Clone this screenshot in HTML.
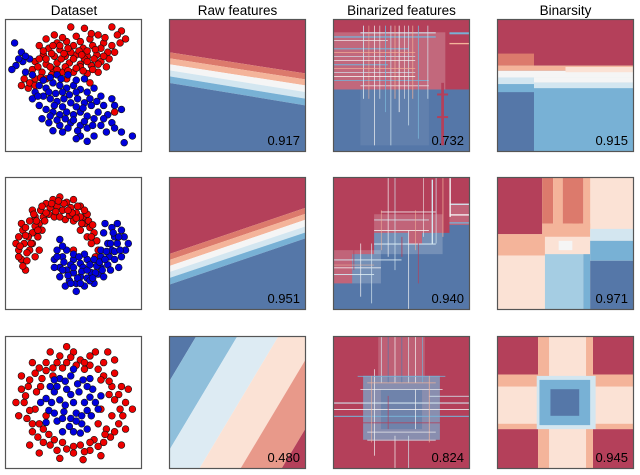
<!DOCTYPE html>
<html><head><meta charset="utf-8"><style>
html,body{margin:0;padding:0;background:#fff;}
svg{display:block;font-family:"Liberation Sans",sans-serif;}
</style></head><body>
<svg id="fig" width="640" height="475" viewBox="0 0 640 475" xmlns="http://www.w3.org/2000/svg">
<text x="74" y="15" text-anchor="middle" font-size="13.5">Dataset</text>
<text x="237.5" y="15" text-anchor="middle" font-size="13.5">Raw features</text>
<text x="401.5" y="15" text-anchor="middle" font-size="13.5">Binarized features</text>
<text x="565.5" y="15" text-anchor="middle" font-size="13.5">Binarsity</text>
</svg>
<script>
// ---------- data ----------
const colX = [5, 169, 333, 497];
const rowY = [19, 177, 336];
const PW = 137, PH = 133;
const scores = [["0.917","0.732","0.915"],["0.951","0.940","0.971"],["0.480","0.824","0.945"]];
const palette = {R:"#b4405a",S:"#dc7a6c",L:"#f4b49a",P:"#fbe2d5",W:"#f5f5f5",B1:"#d3e6f0",B2:"#a5cde3",B3:"#78b1d5",D:"#5577a8",G:"#8fbfdb",Q:"#ddebf3",T:"#e8998a"};

const d1Red = [[.48,.06],[.58,.07],[.78,.06],[.85,.09],[.82,.12],[.68,.12],[.62,.15],[.52,.13],[.45,.17],[.38,.18],[.3,.15],[.25,.2],[.32,.22],[.4,.23],[.5,.2],[.57,.22],[.64,.2],[.72,.18],[.78,.2],[.84,.18],[.88,.15],[.75,.25],[.67,.27],[.6,.28],[.52,.27],[.44,.28],[.36,.28],[.28,.27],[.22,.32],[.3,.34],[.38,.33],[.47,.33],[.55,.34],[.63,.35],[.7,.32],[.76,.3],[.2,.38],[.27,.4],[.35,.38],[.42,.4],[.5,.4],[.6,.41],[.68,.4],[.14,.45],[.22,.45],[.3,.45],[.17,.52],[.62,.48],[.8,.7],[.45,.45],[.55,.36],[.4,.2],[.6,.24],[.34,.26],[.7,.22],[.25,.3],[.48,.25],[.58,.3],[.65,.3],[.36,.12],[.8,.25],[.18,.48],
 [.42,.14],[.55,.17],[.63,.11],[.73,.14],[.35,.2],[.46,.22],[.54,.24],[.66,.23],[.3,.3],[.41,.3],[.5,.3],[.6,.32],[.68,.34],[.33,.36],[.44,.36],[.52,.37],[.24,.36],[.38,.38],[.57,.39],[.64,.38],[.72,.28],[.26,.44],[.34,.42],[.46,.39],[.12,.5],[.22,.5],[.28,.24],[.74,.36],[.56,.27],[.43,.26]];
const d1Blue = [[.07,.18],[.12,.25],[.08,.35],[.05,.38],[.13,.32],[.18,.3],[.2,.42],[.15,.4],[.25,.5],[.3,.52],[.35,.48],[.4,.5],[.45,.52],[.5,.5],[.55,.53],[.6,.55],[.65,.52],[.7,.58],[.28,.58],[.33,.6],[.38,.62],[.43,.6],[.48,.63],[.53,.6],[.58,.63],[.63,.65],[.3,.68],[.35,.7],[.4,.72],[.45,.7],[.5,.72],[.55,.7],[.6,.73],[.68,.7],[.75,.72],[.8,.65],[.85,.68],[.27,.75],[.32,.78],[.4,.8],[.48,.78],[.55,.8],[.6,.82],[.7,.8],[.78,.78],[.85,.85],[.93,.88],[.87,.93],[.65,.88],[.55,.88],[.6,.92],[.52,.9],[.42,.85],[.35,.84],[.25,.65],[.22,.55],[.2,.6],[.42,.55],[.58,.45],[.72,.65],[.46,.42],[.38,.42],
 [.32,.55],[.37,.56],[.47,.57],[.52,.55],[.62,.6],[.67,.62],[.36,.65],[.42,.66],[.52,.66],[.57,.67],[.33,.73],[.38,.76],[.44,.75],[.5,.76],[.58,.77],[.65,.75],[.72,.75],[.46,.82],[.53,.84],[.64,.8],[.74,.85],[.8,.82],[.28,.46],[.33,.44],[.41,.45],[.52,.46],[.24,.58],[.15,.28],[.1,.3],[.78,.6]];
const d2Red = [[.1,.45],[.1,.55],[.12,.62],[.15,.7],[.1,.6],[.14,.5],[.13,.4],[.18,.33],[.2,.42],[.18,.55],[.22,.6],[.16,.63],[.22,.3],[.26,.25],[.25,.35],[.3,.2],[.32,.28],[.35,.17],[.38,.22],[.4,.15],[.42,.25],[.45,.19],[.48,.23],[.5,.17],[.52,.27],[.55,.22],[.57,.3],[.6,.28],[.58,.35],[.62,.38],[.65,.42],[.67,.48],[.63,.5],[.68,.55],[.6,.45],[.55,.4],[.28,.3],[.24,.45],[.2,.5],[.27,.4],[.36,.3],[.44,.32],[.5,.33],[.08,.5],[.17,.45],[.3,.27],[.4,.3],[.47,.29],[.55,.3],[.2,.25],[.12,.35],[.22,.37],[.5,.55],[.66,.6],[.25,.55],
 [.15,.38],[.16,.57],[.19,.5],[.23,.33],[.27,.22],[.33,.23],[.37,.26],[.43,.2],[.49,.27],[.53,.22],[.58,.25],[.61,.33],[.64,.36],[.63,.45],[.13,.67],[.11,.52],[.15,.44],[.21,.28],[.29,.33],[.46,.25],[.52,.31],[.24,.4],[.34,.2],[.39,.18],[.56,.35]];
const d2Blue = [[.38,.55],[.36,.62],[.4,.68],[.42,.6],[.45,.7],[.4,.75],[.47,.78],[.5,.72],[.52,.8],[.55,.75],[.58,.82],[.6,.76],[.63,.72],[.65,.8],[.68,.73],[.7,.68],[.72,.75],[.75,.66],[.76,.6],[.78,.55],[.8,.62],[.82,.5],[.8,.45],[.78,.38],[.85,.4],[.88,.55],[.9,.5],[.85,.6],[.75,.5],[.72,.42],[.7,.55],[.65,.62],[.6,.62],[.55,.65],[.5,.62],[.45,.55],[.42,.52],[.48,.66],[.57,.68],[.52,.86],[.62,.78],[.7,.6],[.87,.45],[.73,.35],[.82,.35],[.4,.47],[.36,.68],[.44,.82],[.67,.67],[.83,.68],[.77,.7],[.58,.58],
 [.43,.64],[.46,.74],[.5,.68],[.53,.76],[.56,.71],[.6,.7],[.62,.66],[.66,.72],[.69,.64],[.73,.62],[.74,.56],[.77,.5],[.8,.56],[.83,.45],[.79,.42],[.38,.6],[.42,.7],[.48,.8],[.55,.8],[.64,.76],[.71,.7],[.84,.55],[.5,.58],[.54,.6]];
const d3Red = [[.5,.12],[.4,.15],[.3,.2],[.22,.28],[.17,.38],[.14,.5],[.16,.62],[.2,.72],[.28,.8],[.38,.86],[.5,.88],[.62,.86],[.72,.8],[.8,.72],[.86,.6],[.88,.5],[.85,.38],[.8,.28],[.72,.2],[.62,.15],[.45,.2],[.35,.24],[.27,.32],[.23,.42],[.22,.55],[.25,.66],[.32,.74],[.42,.8],[.55,.82],[.65,.78],[.74,.7],[.78,.6],[.8,.48],[.78,.38],[.72,.3],[.62,.22],[.55,.18],[.66,.12],[.33,.12],[.12,.4],[.1,.6],[.25,.88],[.7,.9],[.88,.7],[.9,.4],[.8,.18],[.2,.2],[.58,.25],[.3,.6],[.7,.55],[.18,.82],[.85,.82],[.57,.93],[.4,.92],[.08,.5],[.93,.55],[.45,.08],[.75,.12],[.12,.3],[.35,.3],[.68,.66],
 [.25,.24],[.18,.33],[.15,.45],[.18,.56],[.2,.66],[.24,.76],[.33,.82],[.45,.85],[.58,.87],[.68,.83],[.77,.76],[.83,.66],[.84,.55],[.83,.44],[.76,.34],[.68,.25],[.58,.2],[.48,.16],[.38,.2],[.3,.26],[.26,.38],[.28,.7],[.36,.78],[.5,.83],[.62,.8],[.73,.74],[.76,.44],[.7,.33],[.42,.24],[.52,.22]];
const d3Blue = [[.48,.3],[.4,.32],[.33,.38],[.3,.47],[.32,.56],[.38,.64],[.47,.68],[.56,.66],[.63,.6],[.66,.5],[.64,.4],[.57,.33],[.45,.4],[.4,.48],[.43,.57],[.52,.58],[.58,.5],[.54,.42],[.5,.5],[.36,.42],[.6,.7],[.3,.65],[.26,.5],[.5,.25],[.7,.45],[.42,.72],[.55,.73],[.36,.33],[.62,.32],[.48,.62],
 [.44,.34],[.53,.36],[.6,.38],[.38,.38],[.34,.5],[.36,.58],[.42,.62],[.52,.64],[.6,.56],[.62,.46],[.48,.44],[.44,.52],[.56,.6],[.5,.72],[.68,.55]];

const raw1Lines = [[0,.25,1,.41],[0,.295,1,.455],[0,.34,1,.5],[0,.385,1,.55],[0,.43,1,.6],[0,.48,1,.65]];
const raw1Colors = ["R","S","L","W","B1","B3","D"];
const raw2Lines = [[0,.58,1,.23],[0,.625,1,.275],[0,.67,1,.32],[0,.715,1,.37],[0,.76,1,.415],[0,.81,1,.46]];
const raw2Colors = ["R","S","L","W","B1","B3","D"];
const raw3Lines = [[-.38,1,.2,0],[-.08,1,.5,0],[.22,1,.8,0],[.52,1,1.1,0],[.82,1,1.4,0]];
const raw3Colors = ["D","G","Q","P","T","R"];

// binarized features: base rects, overlay haze rects [u0,v0,u1,v1,color,opacity], thin stripes
const bin1Base = [[0,0,1,.53,"R"],[0,.53,1,1,"D"]];
const bin1Haze = [[0,.1,.82,.53,"W",.22],[.2,.53,.7,.95,"W",.08]];
const bin1Stripes = [[0,.13,.75,.14,"B3"],[0,.16,.4,.165,"W"],[.2,.1,.75,.108,"B1"],[.85,.1,1,.115,"B3"],[.85,.18,1,.19,"L"],[0,.22,.55,.228,"B3"],[0,.28,.6,.285,"B1"],[0,.34,.4,.348,"B3"],[0,.4,.6,.405,"B1"],[0,.46,.7,.466,"B3"],[.2,.5,.7,.505,"W"],[.22,.05,.226,.6,"B1"],[.3,.05,.305,.95,"W"],[.38,.05,.386,.7,"B3"],[.42,.05,.425,.95,"B1"],[.48,.05,.486,.7,"W"],[.55,.05,.555,.8,"B1"],[.62,.05,.626,.9,"B3"],[.69,.05,.695,.6,"B1"],[.79,.48,.81,.95,"R"],[.76,.56,.84,.575,"R"],[.76,.73,.84,.745,"R"],[.34,.05,.344,.6,"W"],[.45,.05,.455,.6,"L"],[.52,.05,.524,.6,"W"],[.58,.05,.585,.6,"L"],[.26,.05,.264,.6,"L"],[0,.31,.6,.315,"W"],[0,.37,.6,.375,"L"],[0,.43,.6,.436,"W"],[0,.25,.6,.255,"L"]];
const bin2Base = [[0,0,1,1,"R"]];
const bin2Poly = [[0,.8],[.14,.8],[.14,.58],[.3,.58],[.3,.42],[.55,.42],[.55,.5],[.65,.5],[.65,.42],[.85,.42],[.85,.36],[1,.36],[1,1],[0,1]];
const bin2Haze = [[0,.55,.35,.8,"W",.2],[.3,.28,.8,.58,"W",.2],[.85,.2,1,.36,"W",.2]];
const bin2Stripes = [[0,.62,.5,.627,"B1"],[0,.68,.35,.686,"W"],[0,.73,.3,.737,"B1"],[.3,.5,.75,.508,"B1"],[.3,.4,.7,.406,"W"],[.3,.32,.7,.326,"B1"],[.35,.26,.75,.266,"W"],[.85,.2,1,.21,"B1"],[.85,.28,1,.29,"W"],[.85,.34,1,.35,"B3"],[.72,.02,.73,.5,"B1"],[.85,0,.86,.3,"W"],[.75,0,.755,.5,"B1"],[.4,0,.405,.6,"W"],[.45,0,.455,.7,"B1"],[.2,.5,.205,.9,"W"],[.28,.5,.285,.95,"B1"],[.55,.4,.555,1,"W"],[.62,.5,.625,.8,"R"],[.15,.55,.155,.7,"R"],[.5,.45,.506,.6,"R"],[.35,.25,.354,.55,"L"],[.6,.25,.604,.55,"L"],[.66,0,.664,.45,"W"],[.8,0,.805,.45,"L"],[0,.66,.3,.664,"L"]];
const bin3Base = [[0,0,1,1,"R"]];
const bin3Poly = [[.22,.3],[.78,.3],[.78,.78],[.22,.78]];
const bin3Haze = [[.22,.3,.78,.78,"R",.3],[.35,.4,.65,.7,"D",.5],[.33,0,.67,.3,"W",.18]];
const bin3Stripes = [[.35,0,.355,.35,"B1"],[.4,0,.405,.35,"D"],[.45,0,.455,.35,"W"],[.5,0,.505,.35,"D"],[.55,0,.555,.35,"B1"],[.6,0,.605,.35,"W"],[.65,0,.655,.35,"B3"],[0,.5,1,.508,"B1"],[0,.55,1,.556,"W"],[0,.6,1,.608,"B3"],[.7,.45,1,.456,"B1"],[.3,.25,.305,.9,"W"],[.55,.75,.555,1,"B1"],[.45,.75,.455,1,"W"],[.2,.4,.8,.405,"W"],[.2,.65,.8,.656,"R"],[.4,.45,.405,.7,"R"],[.6,.4,.605,.7,"W"],[.25,.78,.75,.786,"B1"],[.18,.3,.82,.306,"B3"],[.25,.35,.75,.355,"L"],[.28,.3,.284,.8,"L"],[.7,.3,.705,.8,"L"],[.25,.72,.75,.725,"W"]];

const bty1 = [[0,0,1,1,"B3"],[0,0,1,.35,"R"],[0,.26,.27,.35,"S"],[0,.35,1,.39,"L"],[0,.39,1,.44,"W"],[0,.44,.27,.49,"B1"],[0,.49,.27,.55,"B3"],[0,.55,.27,1,"D"],[.27,.44,1,.48,"W"],[.27,.48,1,.52,"B1"],[.5,.36,1,.4,"P"]];
const bty2 = [[0,0,1,1,"P"],[0,0,.33,.43,"R"],[.33,0,.41,.35,"S"],[.41,0,.48,.4,"L"],[.48,0,.63,.35,"S"],[.55,.35,.6,.39,"S"],[.63,0,.68,.4,"L"],[0,.43,.35,.59,"L"],[.33,.35,.68,.45,"L"],[.35,.45,.68,.58,"P"],[.45,.48,.55,.55,"W"],[.35,.58,.63,1,"B2"],[.63,.58,.68,1,"B3"],[.68,.39,1,.48,"B1"],[.68,.48,1,.63,"B3"],[.68,.63,1,1,"D"]];
const bty3 = [[0,0,1,1,"P"],[0,0,.3,.29,"R"],[.7,0,1,.29,"R"],[0,.7,.3,1,"R"],[.7,.7,1,1,"R"],[.3,0,.38,.38,"L"],[.65,0,.7,.38,"L"],[0,.29,.3,.38,"L"],[.7,.29,1,.38,"L"],[.3,.66,.38,1,"L"],[.65,.66,.7,1,"L"],[0,.66,.3,.7,"L"],[.7,.66,1,.7,"L"],[.29,.3,.72,.7,"B1"],[.31,.33,.68,.67,"B3"],[.39,.4,.6,.6,"D"]];

// ---------- drawing ----------
const NS = "http://www.w3.org/2000/svg";
const svg = document.getElementById("fig");
function mk(tag, attrs, parent){ const e=document.createElementNS(NS,tag); for(const k in attrs) e.setAttribute(k,attrs[k]); (parent||svg).appendChild(e); return e; }
function sx(c,u){ return colX[c]+u*PW; }
function sy(r,v){ return rowY[r]+v*PH; }
function clip(poly, L, keepNeg){
  const [x1,y1,x2,y2]=L; const f=p=>(x2-x1)*(p[1]-y1)-(y2-y1)*(p[0]-x1);
  const out=[]; for(let i=0;i<poly.length;i++){ const a=poly[i], b=poly[(i+1)%poly.length];
    let fa=f(a), fb=f(b); if(keepNeg){fa=-fa;fb=-fb;}
    const ina=fa>=0, inb=fb>=0;
    if(ina) out.push(a);
    if(ina!==inb){ const t=fa/(fa-fb); out.push([a[0]+t*(b[0]-a[0]), a[1]+t*(b[1]-a[1])]); }
  } return out;
}
function bands(g,r,c,lines,colors,name){
  for(let k=0;k<colors.length;k++){
    let poly=[[0,0],[1,0],[1,1],[0,1]];
    if(k>0) poly=clip(poly,lines[k-1],false);
    if(k<lines.length) poly=clip(poly,lines[k],true);
    if(poly.length<3) continue;
    const el=mk("polygon",{points:poly.map(p=>sx(c,p[0])+","+sy(r,p[1])).join(" "),fill:palette[colors[k]]},g);
    
    
  }
}
function rects(g,r,c,list,name){
  list.forEach((q,i)=>{
    const el=mk("rect",{x:sx(c,q[0]),y:sy(r,q[1]),width:(q[2]-q[0])*PW,height:(q[3]-q[1])*PH,fill:palette[q[4]],"fill-opacity":q.length>5?q[5]:1},g);
    
    
  });
}
function poly(g,r,c,pts,color,name){
  const el=mk("polygon",{points:pts.map(p=>sx(c,p[0])+","+sy(r,p[1])).join(" "),fill:palette[color]},g);
  
  
}
function panel(r,c,name){
  const cp=mk("clipPath",{id:"cp"+r+c}); mk("rect",{x:colX[c],y:rowY[r],width:PW,height:PH},cp);
  const g=mk("g",{"clip-path":"url(#cp"+r+c+")"});
  
  
  return g;
}
function frame(r,c,name){
  const el=mk("rect",{x:colX[c]+0.5,y:rowY[r]+0.5,width:PW-1,height:PH-1,fill:"none",stroke:"#555","stroke-width":1.2});
  
  
}
function score(r,c){
  const el=mk("text",{x:colX[c]+PW-6,y:rowY[r]+PH-7,"text-anchor":"end","font-size":"13"});
  el.textContent=scores[r][c-1];
  
  
}
function scatter(r,red,blue){
  const g=panel(r,0,'dataset-scatter-'+(r+1));
  mk("rect",{x:colX[0],y:rowY[r],width:PW,height:PH,fill:"#fff"},g);
  [[red,"#ee0000"],[blue,"#0000dd"]].forEach(([pts,col],ci)=>{
    pts.forEach((p,i)=>{
      const el=mk("circle",{cx:sx(0,p[0]),cy:sy(r,p[1]),r:3.4,fill:col,stroke:"#111","stroke-width":0.6},g);
      
      
    });
  });
  frame(r,0,'dataset-'+(r+1));
}
const rawLines=[raw1Lines,raw2Lines,raw3Lines], rawColors=[raw1Colors,raw2Colors,raw3Colors];
const binBase=[bin1Base,bin2Base,bin3Base], binPoly=[null,bin2Poly,bin3Poly], binHaze=[bin1Haze,bin2Haze,bin3Haze], binStripes=[bin1Stripes,bin2Stripes,bin3Stripes];
const binPolyColor=[null,"D","B3"];
const bty=[bty1,bty2,bty3];
const dsets=[[d1Red,d1Blue],[d2Red,d2Blue],[d3Red,d3Blue]];
for(let r=0;r<3;r++){
  scatter(r,dsets[r][0],dsets[r][1]);
  const g1=panel(r,1,'raw-features-panel-'+(r+1));
  bands(g1,r,1,rawLines[r],rawColors[r],'raw'+(r+1));
  frame(r,1,'raw-features-'+(r+1)); score(r,1);
  const g2=panel(r,2,'binarized-features-panel-'+(r+1));
  rects(g2,r,2,binBase[r],'bin'+(r+1)+'-base');
  if(binPoly[r]) poly(g2,r,2,binPoly[r],binPolyColor[r],'bin'+(r+1)+'-blue-region');
  rects(g2,r,2,binHaze[r],'bin'+(r+1)+'-haze');
  rects(g2,r,2,binStripes[r],'bin'+(r+1)+'-stripe');
  frame(r,2,'binarized-features-'+(r+1)); score(r,2);
  const g3=panel(r,3,'binarsity-panel-'+(r+1));
  rects(g3,r,3,bty[r],'binarsity'+(r+1));
  frame(r,3,'binarsity-'+(r+1)); score(r,3);
}
</script>
</body></html>
